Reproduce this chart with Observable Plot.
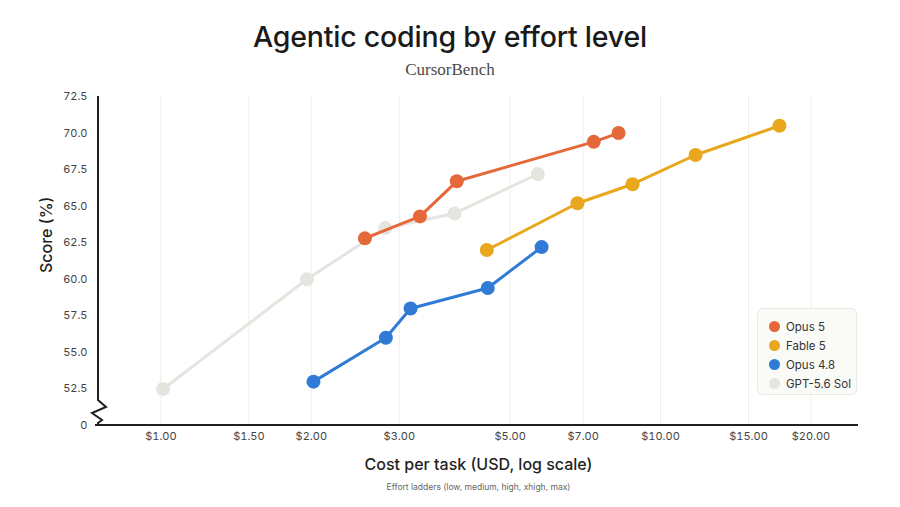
<!DOCTYPE html>
<html>
<head>
<meta charset="utf-8">
<script src="https://cdn.jsdelivr.net/npm/d3@7"></script>
<script src="https://cdn.jsdelivr.net/npm/@observablehq/plot@0.6"></script>
<style>
  html, body { margin: 0; padding: 0; background: #fff; }
  #wrap { position: relative; width: 900px; height: 507px; overflow: hidden; font-family: Inter, "Noto Sans", sans-serif; }
  #title { position: absolute; left: 0; width: 900px; top: 19px; text-align: center; font-size: 28.5px; font-weight: 500; color: #1a1a1a; letter-spacing: -0.2px; }
  #subtitle { position: absolute; left: 0; width: 900px; top: 60px; text-align: center; font-family: "Liberation Serif", "DejaVu Serif", serif; font-size: 17px; color: #4a4a4a; }
  #chart { position: absolute; left: 0; top: 86px; }
  #legend { position: absolute; left: 757px; top: 308px; width: 100px; height: 87px; box-sizing: border-box; background: #fafaf7; border: 1px solid #ebe8e2; border-radius: 6px; padding: 8px 0 0 11px; font-size: 11.5px; color: #333; }
  .li { display: flex; align-items: center; height: 19px; }
  .sw { width: 11px; height: 11px; border-radius: 50%; margin-right: 6px; }
</style>
</head>
<body>
<div id="wrap">
  <div id="title">Agentic coding by effort level</div>
  <div id="subtitle">CursorBench</div>
  <div id="chart"></div>
  <div id="legend"></div>
</div>
<script>
// ---- data ----
const seriesNames = ["Opus 5", "Fable 5", "Opus 4.8", "GPT-5.6 Sol"];
const seriesColors = ["#e5683a", "#e8a71c", "#2f7bd6", "#e6e4de"];

const opus5Cost   = [2.56, 3.30, 3.91, 7.35, 8.24];
const opus5Score  = [62.8, 64.3, 66.7, 69.4, 70.0];
const fable5Cost  = [4.49, 6.82, 8.79, 11.75, 17.3];
const fable5Score = [62.0, 65.2, 66.5, 68.5, 70.5];
const opus48Cost  = [2.02, 2.82, 3.16, 4.51, 5.78];
const opus48Score = [53.0, 56.0, 58.0, 59.4, 62.2];
const gptCost     = [1.01, 1.96, 2.81, 3.87, 5.68];
const gptScore    = [52.5, 60.0, 63.5, 64.5, 67.2];

const costTicks  = [1, 1.5, 2, 3, 5, 7, 10, 15, 20];
const scoreTicks = [50, 52.5, 55, 57.5, 60, 62.5, 65, 67.5, 70, 72.5];
const effortLevels = ["low", "medium", "high", "xhigh", "max"];

// ---- build table ----
const costs = [opus5Cost, fable5Cost, opus48Cost, gptCost];
const scores = [opus5Score, fable5Score, opus48Score, gptScore];
const rows = [];
seriesNames.forEach((s, i) => {
  costs[i].forEach((c, j) => rows.push({series: s, cost: c, score: scores[i][j], effort: effortLevels[j]}));
});
const drawOrder = ["GPT-5.6 Sol", "Opus 4.8", "Fable 5", "Opus 5"];
const colorOf = Object.fromEntries(seriesNames.map((s, i) => [s, seriesColors[i]]));

const marks = [
  Plot.ruleX(costTicks, {stroke: "#f1eee8", strokeWidth: 1}),
];
for (const s of drawOrder) {
  const d = rows.filter(r => r.series === s);
  marks.push(Plot.line(d, {x: "cost", y: "score", stroke: colorOf[s], strokeWidth: 3}));
  marks.push(Plot.dot(d, {x: "cost", y: "score", fill: colorOf[s], r: 7}));
}
marks.push(Plot.axisX({ticks: costTicks, tickFormat: d => "$" + d.toFixed(2), tickSize: 0, tickPadding: 7, label: null, fontSize: 11, fill: "#444"}));
marks.push(Plot.axisY({ticks: scoreTicks, tickFormat: d => d === 50 ? "0" : d.toFixed(1), tickSize: 0, tickPadding: 11, label: null, fontSize: 11, fill: "#444"}));
// axis lines with break
marks.push((index, scales, values, dims) => {
  const xl = dims.marginLeft, xr = dims.width - dims.marginRight;
  const yt = dims.marginTop, yb = dims.height - dims.marginBottom;
  const g = document.createElementNS("http://www.w3.org/2000/svg", "g");
  const p = document.createElementNS("http://www.w3.org/2000/svg", "path");
  const yBreak = yb - 25;
  p.setAttribute("d",
    `M${xl},${yt} L${xl},${yBreak} L${xl + 8},${yBreak + 7} L${xl - 6},${yBreak + 13} L${xl + 4},${yBreak + 20} L${xl},${yBreak + 23} L${xl},${yb}` +
    ` M${xl - 3},${yb} L${xr},${yb}`);
  p.setAttribute("fill", "none");
  p.setAttribute("stroke", "#1f1f1f");
  p.setAttribute("stroke-width", "2");
  g.appendChild(p);
  return g;
});
marks.push(Plot.text(["Cost per task (USD, log scale)"], {frameAnchor: "bottom", dy: 44, fontSize: 16, fill: "#1f1f1f", fontWeight: 500}));
marks.push(Plot.text(["Effort ladders (" + effortLevels.join(", ") + ")"], {frameAnchor: "bottom", dy: 64, fontSize: 8.5, fill: "#666"}));
marks.push(Plot.text(["Score (%)"], {frameAnchor: "left", rotate: -90, dx: -52, dy: 12, fontSize: 16, fill: "#1f1f1f", fontWeight: 500}));

const chart = Plot.plot({
  width: 900,
  height: 421,
  marginTop: 10,
  marginBottom: 82,
  marginLeft: 98,
  marginRight: 42,
  style: {fontFamily: "Inter, 'Noto Sans', sans-serif", background: "transparent", overflow: "visible"},
  x: {type: "log", domain: [0.75, 24.9]},
  y: {domain: [50, 72.5]},
  marks
});
document.getElementById("chart").appendChild(chart);

const leg = document.getElementById("legend");
seriesNames.forEach((s, i) => {
  const el = document.createElement("div");
  el.className = "li";
  el.innerHTML = `<span class="sw" style="background:${seriesColors[i]}"></span><span>${s}</span>`;
  leg.appendChild(el);
});
</script>
</body>
</html>
